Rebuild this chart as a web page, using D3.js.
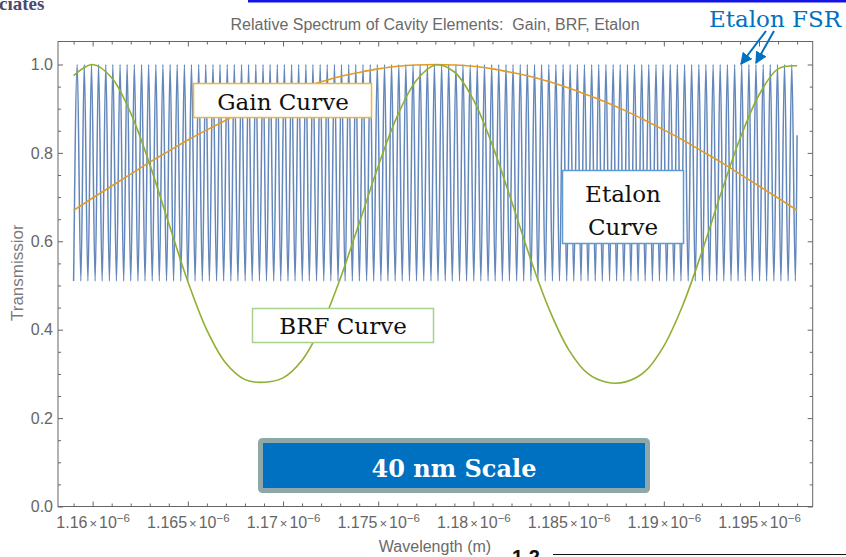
<!DOCTYPE html>
<html>
<head>
<meta charset="utf-8">
<script src="https://cdn.jsdelivr.net/npm/d3@7"></script>
<style>
  html, body { margin: 0; padding: 0; background: #fff; }
  svg { display: block; }
</style>
</head>
<body>
<svg id="chart" width="846" height="557"></svg>
<script>
//
// Data (wavelengths in nm, shown on the axis in metres)
//

var xMajor = [1160, 1165, 1170, 1175, 1180, 1185, 1190, 1195]
var xMajorLabels = ['1.16', '1.165', '1.17', '1.175', '1.18', '1.185', '1.19', '1.195']
var yMajor = [0, 0.2, 0.4, 0.6, 0.8, 1.0]
var yMajorLabels = ['0.0', '0.2', '0.4', '0.6', '0.8', '1.0']

var sampleNm = [1159, 1160, 1161, 1162, 1163, 1164, 1165, 1166, 1167, 1168, 1169, 1170, 1171,
  1172, 1173, 1174, 1175, 1176, 1177, 1178, 1179, 1180, 1181, 1182, 1183, 1184, 1185, 1186,
  1187, 1188, 1189, 1190, 1191, 1192, 1193, 1194, 1195, 1196, 1197]

var gainValues = [0.670, 0.698, 0.725, 0.752, 0.779, 0.804, 0.829, 0.852, 0.874, 0.895, 0.914,
  0.931, 0.947, 0.961, 0.973, 0.982, 0.990, 0.996, 0.999, 1.000, 0.999, 0.996, 0.990, 0.982,
  0.973, 0.961, 0.947, 0.931, 0.914, 0.895, 0.874, 0.852, 0.829, 0.804, 0.779, 0.752, 0.725,
  0.698, 0.670]

var brfValues = [0.975, 1.000, 0.970, 0.890, 0.774, 0.640, 0.509, 0.399, 0.324, 0.287, 0.281,
  0.291, 0.331, 0.407, 0.515, 0.641, 0.770, 0.883, 0.964, 0.999, 0.983, 0.920, 0.817, 0.691,
  0.560, 0.444, 0.355, 0.301, 0.281, 0.282, 0.305, 0.363, 0.456, 0.576, 0.708, 0.832, 0.931,
  0.990, 0.997]

// etalon comb: wavelengths of the maxima and minima
var etalonPeaks = [1159.19, 1159.56, 1159.94, 1160.31, 1160.69, 1161.06, 1161.44, 1161.81,
  1162.19, 1162.57, 1162.94, 1163.32, 1163.69, 1164.07, 1164.44, 1164.82, 1165.19, 1165.57,
  1165.94, 1166.32, 1166.69, 1167.07, 1167.44, 1167.82, 1168.19, 1168.57, 1168.95, 1169.32,
  1169.70, 1170.07, 1170.45, 1170.82, 1171.20, 1171.57, 1171.95, 1172.32, 1172.70, 1173.07,
  1173.45, 1173.82, 1174.20, 1174.58, 1174.95, 1175.33, 1175.70, 1176.08, 1176.45, 1176.83,
  1177.20, 1177.58, 1177.95, 1178.33, 1178.70, 1179.08, 1179.45, 1179.83, 1180.20, 1180.58,
  1180.96, 1181.33, 1181.71, 1182.08, 1182.46, 1182.83, 1183.21, 1183.58, 1183.96, 1184.33,
  1184.71, 1185.08, 1185.46, 1185.83, 1186.21, 1186.58, 1186.96, 1187.34, 1187.71, 1188.09,
  1188.46, 1188.84, 1189.21, 1189.59, 1189.96, 1190.34, 1190.71, 1191.09, 1191.46, 1191.84,
  1192.21, 1192.59, 1192.96, 1193.34, 1193.72, 1194.09, 1194.47, 1194.84, 1195.22, 1195.59,
  1195.97, 1196.34, 1196.72]
var etalonTroughs = [1159.00, 1159.38, 1159.75, 1160.13, 1160.50, 1160.88, 1161.25, 1161.63,
  1162.00, 1162.38, 1162.75, 1163.13, 1163.50, 1163.88, 1164.25, 1164.63, 1165.00, 1165.38,
  1165.76, 1166.13, 1166.51, 1166.88, 1167.26, 1167.63, 1168.01, 1168.38, 1168.76, 1169.13,
  1169.51, 1169.88, 1170.26, 1170.63, 1171.01, 1171.38, 1171.76, 1172.14, 1172.51, 1172.89,
  1173.26, 1173.64, 1174.01, 1174.39, 1174.76, 1175.14, 1175.51, 1175.89, 1176.26, 1176.64,
  1177.01, 1177.39, 1177.77, 1178.14, 1178.52, 1178.89, 1179.27, 1179.64, 1180.02, 1180.39,
  1180.77, 1181.14, 1181.52, 1181.89, 1182.27, 1182.64, 1183.02, 1183.39, 1183.77, 1184.15,
  1184.52, 1184.90, 1185.27, 1185.65, 1186.02, 1186.40, 1186.77, 1187.15, 1187.52, 1187.90,
  1188.27, 1188.65, 1189.02, 1189.40, 1189.77, 1190.15, 1190.53, 1190.90, 1191.28, 1191.65,
  1192.03, 1192.40, 1192.78, 1193.15, 1193.53, 1193.90, 1194.28, 1194.65, 1195.03, 1195.40,
  1195.78, 1196.15, 1196.53, 1196.91]
var etalonMax = 1.0
var etalonMin = 0.51
var etalonEnd = [1197.0, 0.84]

//
// Variables
//

var svg = d3.select('#chart')
var plotLeft = 58, plotRight = 812.7, plotTop = 41.5, plotBottom = 506.5
var x = d3.scaleLinear().domain([1158.18, 1197.82]).range([plotLeft, plotRight])
var y = d3.scaleLinear().domain([0, 1.052]).range([plotBottom, plotTop])
var frameColor = '#666'
var labelColor = '#666'
var sansFont = '"Liberation Sans", Arial, sans-serif'
var serifFont = '"DejaVu Serif", serif'

var xMinor = d3.range(1159, 1198, 1).filter(function (d) { return xMajor.indexOf(d) < 0 })
var yMinor = d3.range(0.05, 1.05, 0.05).filter(function (d) {
  return yMajor.every(function (m) { return Math.abs(m - d) > 1e-6 })
})

//
// Functions
//

function tickAxis(axis, pos, values, size) {
  var g = svg.append('g')
    .attr('transform', pos)
    .call(axis.tickValues(values).tickSize(size).tickSizeOuter(0).tickFormat(function () { return '' }))
  g.select('.domain').remove()
  g.selectAll('line').attr('stroke', frameColor)
  return g
}

function drawFrame() {
  var sides = [
    [d3.axisBottom(x), 'translate(0,' + plotBottom + ')', xMinor],
    [d3.axisTop(x), 'translate(0,' + plotTop + ')', xMinor],
    [d3.axisLeft(y), 'translate(' + plotLeft + ',0)', yMinor],
    [d3.axisRight(y), 'translate(' + plotRight + ',0)', yMinor]
  ]
  sides.forEach(function (s) {
    tickAxis(s[0], s[1], s[2], -3)
  })
  var bottomAxis = tickAxis(d3.axisBottom(x), 'translate(0,' + plotBottom + ')', xMajor, -5)
  tickAxis(d3.axisTop(x), 'translate(0,' + plotTop + ')', xMajor, -5)
  var leftAxis = tickAxis(d3.axisLeft(y), 'translate(' + plotLeft + ',0)', yMajor, -5)
  tickAxis(d3.axisRight(y), 'translate(' + plotRight + ',0)', yMajor, -5)

  // x labels like 1.16 x 10^-6
  bottomAxis.selectAll('.tick text')
    .attr('y', 21).attr('dy', 0)
    .attr('fill', labelColor)
    .style('font-family', sansFont).style('font-size', '16px')
    .each(function (d, i) {
      var t = d3.select(this)
      t.append('tspan').text(xMajorLabels[i])
      t.append('tspan').attr('dx', 2).style('font-size', '13px').text('\u00d7')
      t.append('tspan').attr('dx', 2).text('10')
      t.append('tspan').attr('dy', -6).style('font-size', '11.5px').text('\u22126')
    })

  leftAxis.selectAll('.tick text')
    .attr('x', -5)
    .attr('fill', labelColor)
    .style('font-family', sansFont).style('font-size', '16px')
    .text(function (d, i) { return yMajorLabels[i] })

  svg.append('rect')
    .attr('x', plotLeft).attr('y', plotTop)
    .attr('width', plotRight - plotLeft).attr('height', plotBottom - plotTop)
    .attr('fill', 'none').attr('stroke', frameColor).attr('stroke-width', 1)
}

function drawCurves() {
  var etalonPts = etalonTroughs.map(function (w) { return [w, etalonMin] })
    .concat(etalonPeaks.map(function (w) { return [w, etalonMax] }))
    .sort(function (a, b) { return a[0] - b[0] })
  etalonPts.push(etalonEnd)

  var line = d3.line()
    .x(function (d) { return x(d[0]) })
    .y(function (d) { return y(d[1]) })

  svg.append('path')
    .attr('d', line.curve(d3.curveMonotoneX)(etalonPts))
    .attr('fill', 'none').attr('stroke', '#6387bb').attr('stroke-width', 1.5)

  var gainPts = sampleNm.map(function (w, i) { return [w, gainValues[i]] })
  svg.append('path')
    .attr('d', line.curve(d3.curveCatmullRom)(gainPts))
    .attr('fill', 'none').attr('stroke', '#e19c24').attr('stroke-width', 1.6)

  var brfPts = sampleNm.map(function (w, i) { return [w, brfValues[i]] })
  svg.append('path')
    .attr('d', line.curve(d3.curveCatmullRom)(brfPts))
    .attr('fill', 'none').attr('stroke', '#8fb032').attr('stroke-width', 1.6)
}

function drawLabels() {
  svg.append('text')
    .attr('x', 435).attr('y', 30)
    .attr('text-anchor', 'middle').attr('fill', '#6a6a6a')
    .style('font-family', sansFont).style('font-size', '16px')
    .attr('xml:space', 'preserve')
    .text('Relative Spectrum of Cavity Elements:  Gain, BRF, Etalon')

  svg.append('text')
    .attr('x', 435).attr('y', 552)
    .attr('text-anchor', 'middle').attr('fill', '#6a6a6a')
    .style('font-family', sansFont).style('font-size', '16px')
    .text('Wavelength (m)')

  // y title, its end is cut off in the original
  svg.append('clipPath').attr('id', 'ycut')
    .append('rect').attr('x', 0).attr('y', 225).attr('width', 40).attr('height', 110)
  svg.append('g')
    .attr('clip-path', 'url(#ycut)')
    .append('text')
    .attr('transform', 'translate(23,321) rotate(-90)')
    .attr('text-anchor', 'start').attr('fill', '#7a7a7a')
    .style('font-family', sansFont).style('font-size', '17px')
    .text('Transmission')
}

function box(bx, by, bw, bh, stroke, lines, baselines, cx) {
  svg.append('rect')
    .attr('x', bx).attr('y', by).attr('width', bw).attr('height', bh)
    .attr('fill', '#fff').attr('stroke', stroke).attr('stroke-width', 1.5)
  lines.forEach(function (l, i) {
    svg.append('text')
      .attr('x', cx).attr('y', baselines[i])
      .attr('text-anchor', 'middle').attr('fill', '#111')
      .style('font-family', serifFont).style('font-size', '23px')
      .text(l)
  })
}

function drawAnnotations() {
  box(193.5, 83.5, 178, 34, '#f2b43c', ['Gain Curve'], [110], 283)
  box(562.5, 170.5, 121, 73, '#5b9bd5', ['Etalon', 'Curve'], [202, 235], 623)
  box(252.5, 308.5, 181, 34, '#a9d18e', ['BRF Curve'], [334], 343)

  // 40 nm scale banner
  svg.append('rect')
    .attr('x', 260.5).attr('y', 440.5).attr('width', 387).attr('height', 50)
    .attr('rx', 2).attr('fill', '#0070c0')
    .attr('stroke', '#8ea8aa').attr('stroke-width', 5)
  svg.append('text')
    .attr('x', 454).attr('y', 477)
    .attr('text-anchor', 'middle').attr('fill', '#fff')
    .style('font-family', serifFont).style('font-size', '24px').style('font-weight', 'bold')
    .text('40 nm Scale')

  // Etalon FSR with arrows
  svg.append('defs').append('marker')
    .attr('id', 'head').attr('markerUnits', 'userSpaceOnUse')
    .attr('viewBox', '0 0 10 10').attr('refX', 9).attr('refY', 5)
    .attr('markerWidth', 12).attr('markerHeight', 12).attr('orient', 'auto')
    .append('path').attr('d', 'M0,0L10,5L0,10z').attr('fill', '#0070c0')
  svg.append('text')
    .attr('x', 775).attr('y', 27)
    .attr('text-anchor', 'middle').attr('fill', '#0070c0')
    .style('font-family', serifFont).style('font-size', '23px')
    .text('Etalon FSR')
  ;[[766, 31, 741, 64], [774, 31, 756, 63]].forEach(function (a) {
    svg.append('line')
      .attr('x1', a[0]).attr('y1', a[1]).attr('x2', a[2]).attr('y2', a[3])
      .attr('stroke', '#0070c0').attr('stroke-width', 2)
      .attr('marker-end', 'url(#head)')
  })

  // bits of the slide around the chart
  svg.append('rect').attr('x', 248).attr('y', 0).attr('width', 598).attr('height', 2.5).attr('fill', '#1414e6')
  svg.append('text')
    .attr('x', -1).attr('y', 10).attr('fill', '#4b4a68')
    .style('font-family', '"Liberation Serif", serif').style('font-size', '19px').style('font-weight', 'bold')
    .text('ciates')
  svg.append('text')
    .attr('x', 512).attr('y', 564).attr('fill', '#111')
    .style('font-family', sansFont).style('font-size', '20px').style('font-weight', 'bold')
    .text('1.2')
  svg.append('line')
    .attr('x1', 553).attr('y1', 554.5).attr('x2', 846).attr('y2', 554.5)
    .attr('stroke', '#111').attr('stroke-width', 1)
}

//
// Initialization
//

drawCurves()
drawFrame()
drawLabels()
drawAnnotations()
</script>
</body>
</html>
